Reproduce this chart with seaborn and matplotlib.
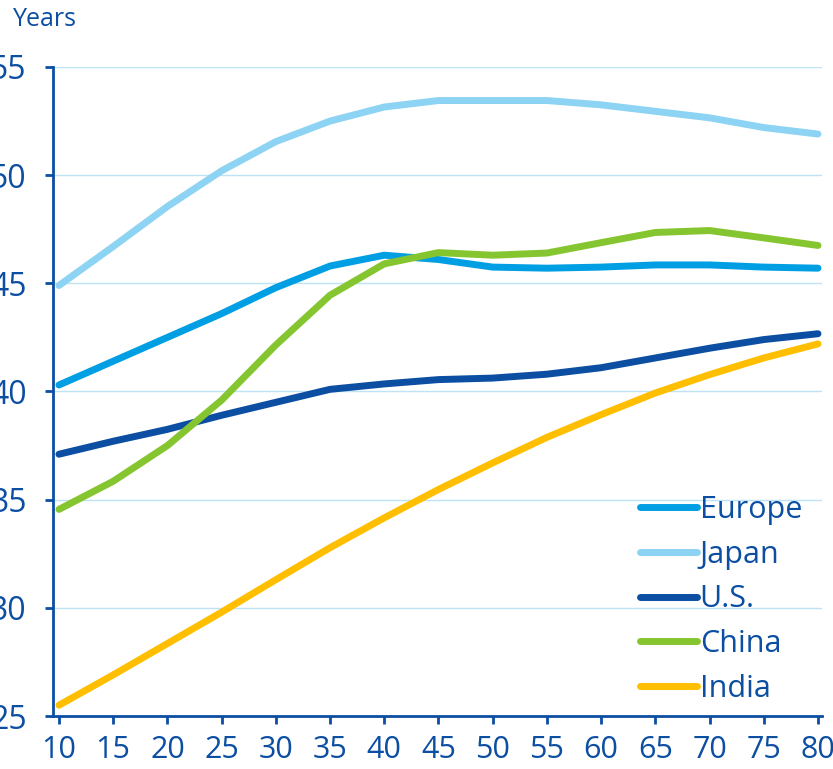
import pandas as pd
import matplotlib.pyplot as plt
import seaborn as sns

# Data
years = [10, 15, 20, 25, 30, 35, 40, 45, 50, 55, 60, 65, 70, 75, 80]
europe = [40.3, 41.4, 42.5, 43.6, 44.8, 45.8, 46.3, 46.1, 45.75, 45.7, 45.75, 45.85, 45.85, 45.75, 45.7]
japan = [44.9, 46.7, 48.55, 50.2, 51.55, 52.5, 53.15, 53.45, 53.45, 53.45, 53.25, 52.95, 52.65, 52.2, 51.9]
us = [37.1, 37.7, 38.25, 38.9, 39.5, 40.1, 40.35, 40.55, 40.62, 40.8, 41.1, 41.55, 42.0, 42.4, 42.67]
china = [34.55, 35.85, 37.5, 39.6, 42.15, 44.45, 45.9, 46.42, 46.3, 46.4, 46.88, 47.35, 47.44, 47.1, 46.75]
india = [25.5, 26.9, 28.35, 29.8, 31.3, 32.78, 34.16, 35.47, 36.7, 37.88, 38.93, 39.93, 40.78, 41.55, 42.2]

regions = ['Europe', 'Japan', 'U.S.', 'China', 'India']
colors = ['#009FE3', '#8DD3F3', '#0B4EA2', '#85C52F', '#FFBF00']
y_ticks = [25, 30, 35, 40, 45, 50, 55]

text_color = '#0B4EA2'

df = pd.DataFrame({
    'year': years * 5,
    'age': europe + japan + us + china + india,
    'region': [r for r in regions for _ in years],
})

sns.set_style('white')
plt.rcParams['font.family'] = ['Open Sans', 'DejaVu Sans']

fig = plt.figure(figsize=(8.33, 7.69), dpi=100)
ax = fig.add_axes([0.0636, 0.0689, 0.9232, 0.844])

sns.lineplot(data=df, x='year', y='age', hue='region', hue_order=regions,
             palette=colors, linewidth=5, ax=ax, legend=False,
             solid_capstyle='round', solid_joinstyle='round')

ax.set_xlim(9.45, 80.37)
ax.set_ylim(25, 55)
ax.set_xticks(years)
ax.set_yticks(y_ticks)
ax.set_xlabel('')
ax.set_ylabel('')

for y in y_ticks[1:]:
    ax.axhline(y, color='#BDE3F5', linewidth=1, zorder=0)

for side in ['top', 'right']:
    ax.spines[side].set_visible(False)
for side in ['left', 'bottom']:
    ax.spines[side].set_color(text_color)
    ax.spines[side].set_linewidth(2)

ax.tick_params(axis='x', direction='out', length=6, width=2, color=text_color,
               labelcolor=text_color, labelsize=22, pad=8, bottom=True)
ax.tick_params(axis='y', direction='out', length=6, width=2, color=text_color,
               labelcolor=text_color, labelsize=23, pad=13, left=True)

handles = [plt.Line2D([], [], color=c, linewidth=5, solid_capstyle='round') for c in colors]
leg = ax.legend(handles, regions, loc='lower right', bbox_to_anchor=(0.99, 0.0),
                frameon=False, fontsize=22, handlelength=1.85, handletextpad=0.1,
                labelspacing=0.48, borderaxespad=0)
for t in leg.get_texts():
    t.set_color(text_color)

fig.text(0.015, 0.975, 'Years', color=text_color, fontsize=18, va='center', ha='left')

fig.savefig('out.png', dpi=100)
